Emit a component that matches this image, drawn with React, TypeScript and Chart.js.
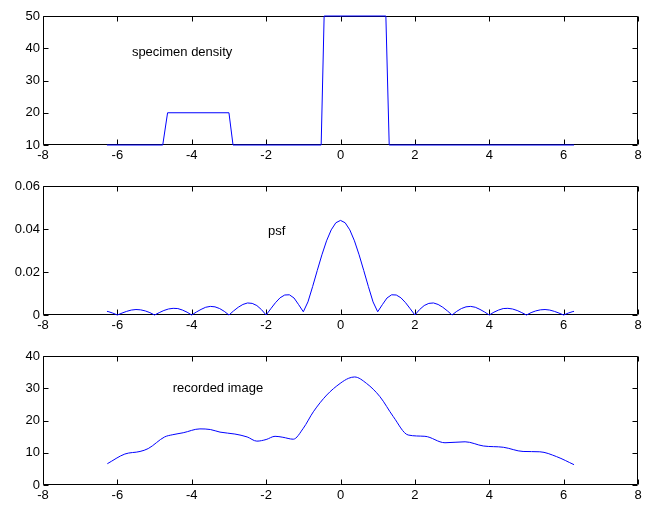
import React, { useEffect, useRef } from "react";
import { Chart, registerables } from "chart.js";

Chart.register(...registerables);

// ---- data ----
const xTicks = [-8, -6, -4, -2, 0, 2, 4, 6, 8];

const densityTicks = [10, 20, 30, 40, 50];
const densityX = [-6.28, -4.78, -4.65, -3.0, -2.89, -0.52, -0.44, 1.22, 1.31, 6.28];
const densityY = [10, 10, 20, 20, 10, 10, 50, 50, 10, 10];

const psfTicks = [0, 0.02, 0.04, 0.06];
const psfTickLabels = ["0", "0.02", "0.04", "0.06"];
const psfX = [
  -6.28, -6.25, -6.125, -6, -5.875, -5.75, -5.625, -5.5, -5.375, -5.25, -5.125, -5,
  -4.875, -4.75, -4.625, -4.5, -4.375, -4.25, -4.125, -4, -3.875, -3.75, -3.625, -3.5,
  -3.375, -3.25, -3.125, -3, -2.875, -2.75, -2.625, -2.5, -2.375, -2.25, -2.125, -2,
  -1.875, -1.75, -1.625, -1.5, -1.375, -1.25, -1.125, -1, -0.875, -0.75, -0.625, -0.5,
  -0.375, -0.25, -0.125, 0, 0.125, 0.25, 0.375, 0.5, 0.625, 0.75, 0.875, 1, 1.125, 1.25,
  1.375, 1.5, 1.625, 1.75, 1.875, 2, 2.125, 2.25, 2.375, 2.5, 2.625, 2.75, 2.875, 3,
  3.125, 3.25, 3.375, 3.5, 3.625, 3.75, 3.875, 4, 4.125, 4.25, 4.375, 4.5, 4.625, 4.75,
  4.875, 5, 5.125, 5.25, 5.375, 5.5, 5.625, 5.75, 5.875, 6, 6.125, 6.25, 6.28,
];
const psfY = [
  0.0017, 0.0016, 0.0009, 0, 0.0009, 0.0017, 0.0023, 0.00255, 0.0024, 0.0019, 0.0011, 0,
  0.0011, 0.0021, 0.0028, 0.0031, 0.003, 0.0023, 0.0013, 0, 0.0014, 0.0026, 0.0036, 0.004,
  0.0038, 0.003, 0.0017, 0, 0.0019, 0.0036, 0.0049, 0.0056, 0.0054, 0.0044, 0.0025, 0,
  0.0029, 0.0057, 0.008, 0.0093, 0.0094, 0.0079, 0.0048, 0.0015, 0.0061, 0.0132, 0.0207, 0.028,
  0.0345, 0.0396, 0.0429, 0.044, 0.0429, 0.0396, 0.0345, 0.028, 0.0207, 0.0132, 0.0061, 0.0015, 0.0048, 0.0079,
  0.0094, 0.0093, 0.008, 0.0057, 0.0029, 0, 0.0025, 0.0044, 0.0054, 0.0056, 0.0049, 0.0036, 0.0019, 0,
  0.0017, 0.003, 0.0038, 0.004, 0.0036, 0.0026, 0.0014, 0, 0.0013, 0.0023, 0.003, 0.0031, 0.0028, 0.0021,
  0.0011, 0, 0.0011, 0.0019, 0.0024, 0.00255, 0.0023, 0.0017, 0.0009, 0, 0.0009, 0.0016, 0.0017,
];

const imageTicks = [0, 10, 20, 30, 40];
const imageX = [
  -6.27, -5.8, -5.39, -5.17, -4.73, -4.51, -4.23, -3.78, -3.5, -3.24, -2.84, -2.51, -2.25,
  -2.0, -1.76, -1.55, -1.27, -1.0, -0.73, -0.37, -0.01, 0.22, 0.38, 0.7, 1.06, 1.42, 1.82,
  2.27, 2.81, 3.35, 3.84, 4.38, 4.91, 5.36, 5.81, 6.28,
];
const imageY = [
  6.6, 9.6, 10.4, 11.3, 14.9, 15.6, 16.2, 17.4, 17.2, 16.4, 15.8, 14.9, 13.6,
  14.1, 15.1, 14.8, 14.2, 17.6, 22.7, 27.9, 31.5, 33.1, 33.5, 31.5, 27.4, 21.2, 15.5,
  15.1, 13.1, 13.4, 12.1, 11.7, 10.4, 10.3, 8.8, 6.3,
];

const FONT = "'Liberation Sans', Arial, Helvetica, sans-serif";

type PanelProps = {
  xs: number[];
  ys: number[];
  yMin: number;
  yMax: number;
  yTicks: number[];
  yLabels?: string[];
  label: string;
  labelX: number;
  labelY: number;
  smooth: boolean;
  top: number;
};

const framePlugin = {
  id: "matlabFrame",
  beforeDatasetsDraw(chart: any) {
    const { ctx, chartArea, scales } = chart;
    const { left, right, top, bottom } = chartArea;
    const L = Math.round(left) + 0.5;
    const R = Math.round(right) - 0.5;
    const T = Math.round(top) + 0.5;
    const B = Math.round(bottom) - 0.5;
    ctx.save();
    ctx.strokeStyle = "#000";
    ctx.lineWidth = 1;
    ctx.beginPath();
    ctx.rect(L, T, R - L, B - T);
    const tl = 5;
    for (const v of xTicks) {
      const px = Math.round(scales.x.getPixelForValue(v)) + 0.5;
      ctx.moveTo(px, B);
      ctx.lineTo(px, B - tl);
      ctx.moveTo(px, T);
      ctx.lineTo(px, T + tl);
    }
    const yt: number[] = chart.options.plugins.matlabFrame.yTicks;
    for (const v of yt) {
      const py = Math.round(scales.y.getPixelForValue(v)) + 0.5;
      ctx.moveTo(L, py);
      ctx.lineTo(L + tl, py);
      ctx.moveTo(R, py);
      ctx.lineTo(R - tl, py);
    }
    ctx.stroke();
    ctx.restore();
  },
  afterDraw(chart: any) {
    const o = chart.options.plugins.matlabFrame;
    const { ctx, scales } = chart;
    ctx.save();
    ctx.fillStyle = "#000";
    ctx.font = `13px ${FONT}`;
    ctx.textAlign = "left";
    ctx.textBaseline = "middle";
    ctx.fillText(o.label, scales.x.getPixelForValue(o.labelX), scales.y.getPixelForValue(o.labelY));
    ctx.restore();
  },
};

function Panel(p: PanelProps) {
  const ref = useRef<HTMLCanvasElement | null>(null);
  useEffect(() => {
    if (!ref.current) return;
    const data = p.xs.map((x, i) => ({ x, y: p.ys[i] }));
    const chart = new Chart(ref.current, {
      type: "line",
      data: {
        datasets: [
          {
            data,
            borderColor: "#0000ff",
            borderWidth: 1,
            pointRadius: 0,
            fill: false,
            tension: p.smooth ? 0.4 : 0,
            cubicInterpolationMode: p.smooth ? "monotone" : "default",
            clip: false,
          } as any,
        ],
      },
      options: {
        animation: false,
        responsive: false,
        maintainAspectRatio: false,
        layout: { padding: { top: 16, right: 7, left: 0, bottom: 0 } },
        plugins: {
          legend: { display: false },
          tooltip: { enabled: false },
          matlabFrame: {
            yTicks: p.yTicks,
            label: p.label,
            labelX: p.labelX,
            labelY: p.labelY,
          },
        } as any,
        scales: {
          x: {
            type: "linear",
            min: -8,
            max: 8,
            grid: { display: false, drawTicks: false },
            border: { display: false },
            afterBuildTicks: (axis: any) => {
              axis.ticks = xTicks.map((v) => ({ value: v }));
            },
            afterFit: (axis: any) => {
              axis.height = 25;
            },
            ticks: {
              color: "#000",
              font: { size: 13, family: FONT },
              padding: 3,
              maxRotation: 0,
              autoSkip: false,
              callback: (v: any) => String(v),
            },
          },
          y: {
            type: "linear",
            min: p.yMin,
            max: p.yMax,
            grid: { display: false, drawTicks: false },
            border: { display: false },
            afterBuildTicks: (axis: any) => {
              axis.ticks = p.yTicks.map((v) => ({ value: v }));
            },
            afterFit: (axis: any) => {
              axis.width = 43;
            },
            ticks: {
              color: "#000",
              font: { size: 13, family: FONT },
              padding: 3,
              autoSkip: false,
              callback: (v: any) => {
                const i = p.yTicks.indexOf(v);
                if (p.yLabels && i >= 0) return p.yLabels[i];
                return String(v);
              },
            },
          },
        },
      },
      plugins: [framePlugin],
    });
    return () => chart.destroy();
  }, []);
  return (
    <canvas
      ref={ref}
      width={645}
      height={170}
      style={{ position: "absolute", left: 0, top: p.top, width: 645, height: 170 }}
    />
  );
}

export default function App() {
  return (
    <div style={{ position: "absolute", left: 0, top: 0, width: 645, height: 509, background: "#fff" }}>
      <Panel
        xs={densityX}
        ys={densityY}
        yMin={10}
        yMax={50}
        yTicks={densityTicks}
        label="specimen density"
        labelX={-5.61}
        labelY={38.7}
        smooth={false}
        top={0}
      />
      <Panel
        xs={psfX}
        ys={psfY}
        yMin={0}
        yMax={0.06}
        yTicks={psfTicks}
        yLabels={psfTickLabels}
        label="psf"
        labelX={-1.95}
        labelY={0.039}
        smooth={false}
        top={170}
      />
      <Panel
        xs={imageX}
        ys={imageY}
        yMin={0}
        yMax={40}
        yTicks={imageTicks}
        label="recorded image"
        labelX={-4.51}
        labelY={29.8}
        smooth={true}
        top={340}
      />
    </div>
  );
}
